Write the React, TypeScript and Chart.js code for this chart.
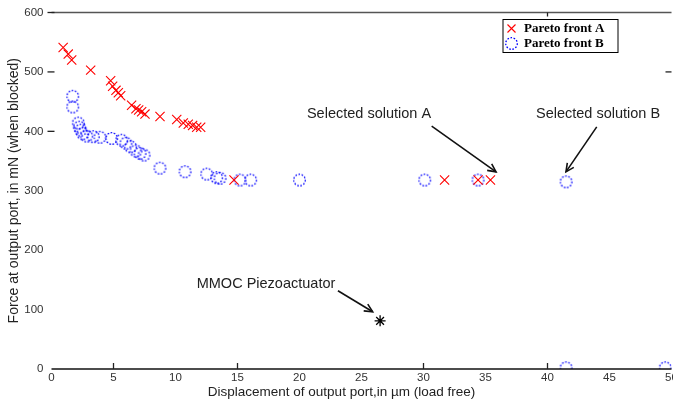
import React, { useEffect, useRef } from 'react';
import { Chart, registerables } from 'chart.js';

Chart.register(...registerables);

// ---- Data ----
const paretoAX = [0.94, 1.35, 1.63, 3.16, 4.77, 4.93, 5.2, 5.39, 5.58, 6.46, 6.81, 7.03, 7.27, 7.54, 8.75, 10.1, 10.63, 11.03, 11.38, 11.71, 12.03, 14.72, 31.7, 34.4, 35.4];
const paretoAY = [541, 530, 520, 503, 485, 476, 469, 465, 460, 444, 438, 436, 433, 429, 425, 420, 414, 412, 410, 407, 407, 318, 318, 318, 318];

const paretoBX = [1.71, 1.71, 2.16, 2.24, 2.35, 2.52, 2.84, 3.37, 3.91, 4.85, 5.66, 6.0, 6.38, 6.81, 7.14, 7.46, 8.75, 10.77, 12.52, 13.32, 13.59, 15.2, 16.06, 20.0, 30.1, 34.4, 41.5, 41.5, 49.5];
const paretoBY = [459, 441, 414, 407, 402, 396, 392, 391, 390, 388, 385, 380, 374, 367, 363, 360, 338, 332, 328, 322, 321, 318, 318, 318, 318, 318, 315, 2, 2];

const mmocX = [26.5];
const mmocY = [81];

const seriesLabels = ['Pareto front A', 'Pareto front B', 'MMOC Piezoactuator'];

const xMin = 0;
const xMax = 50;
const xStep = 5;
const yMin = 0;
const yMax = 600;
const yStep = 100;

const xTitle = 'Displacement of output port,in \u00b5m (load free)';
const yTitle = 'Force at output port, in mN (when blocked)';

// annotations in data coordinates
const annotationTexts = ['Selected solution A', 'Selected solution B', 'MMOC Piezoactuator'];
const annotationTextX = [20.6, 39.07, 11.71];
const annotationTextY = [430, 429, 143];
const arrowFromX = [30.66, 43.97, 23.1];
const arrowFromY = [408.7, 407.5, 131.7];
const arrowToX = [35.85, 41.49, 25.9];
const arrowToY = [331.8, 331.8, 96.4];

// visible tick marks in the reference
const bottomTickMarks = [5, 15, 30, 40];
const leftTickMarks = [400, 500, 600];
const rightTickMarks = [500];
const topTickMarks = [40];

function makeDottedCircle(): HTMLCanvasElement {
  const c = document.createElement('canvas');
  c.width = 15;
  c.height = 15;
  const g = c.getContext('2d')!;
  g.strokeStyle = 'rgb(0,0,255)';
  g.lineWidth = 1.3;
  g.setLineDash([1.6, 1.6]);
  g.beginPath();
  g.arc(7.5, 7.5, 5.8, 0, Math.PI * 2);
  g.stroke();
  return c;
}

function drawArrow(ctx: CanvasRenderingContext2D, x1: number, y1: number, x2: number, y2: number) {
  ctx.beginPath();
  ctx.moveTo(x1, y1);
  ctx.lineTo(x2, y2);
  ctx.stroke();
  const ang = Math.atan2(y2 - y1, x2 - x1);
  const len = 9;
  const spread = 0.45;
  ctx.beginPath();
  ctx.moveTo(x2 - len * Math.cos(ang - spread), y2 - len * Math.sin(ang - spread));
  ctx.lineTo(x2, y2);
  ctx.lineTo(x2 - len * Math.cos(ang + spread), y2 - len * Math.sin(ang + spread));
  ctx.stroke();
}

export default function App() {
  const ref = useRef<HTMLCanvasElement | null>(null);

  useEffect(() => {
    if (!ref.current) return;
    const circleImg = makeDottedCircle();

    const decor = {
      id: 'decor',
      afterDraw(chart: any) {
        const { ctx, chartArea: a, scales } = chart;
        const xs = scales.x;
        const ys = scales.y;
        ctx.save();
        // frame lines (top and bottom)
        ctx.lineWidth = 1.5;
        ctx.strokeStyle = '#111';
        ctx.beginPath();
        ctx.moveTo(a.left, a.bottom);
        ctx.lineTo(a.right, a.bottom);
        ctx.stroke();
        ctx.strokeStyle = '#555';
        ctx.beginPath();
        ctx.moveTo(a.left, a.top);
        ctx.lineTo(a.right, a.top);
        ctx.stroke();

        // tick marks
        ctx.strokeStyle = '#222';
        ctx.lineWidth = 1.3;
        bottomTickMarks.forEach((v) => {
          const px = xs.getPixelForValue(v);
          ctx.beginPath();
          ctx.moveTo(px, a.bottom);
          ctx.lineTo(px, a.bottom - 6);
          ctx.stroke();
        });
        topTickMarks.forEach((v) => {
          const px = xs.getPixelForValue(v);
          ctx.beginPath();
          ctx.moveTo(px, a.top);
          ctx.lineTo(px, a.top + 4);
          ctx.stroke();
        });
        leftTickMarks.forEach((v) => {
          const py = ys.getPixelForValue(v);
          ctx.beginPath();
          ctx.moveTo(a.left - 4, py);
          ctx.lineTo(a.left + 3, py);
          ctx.stroke();
        });
        rightTickMarks.forEach((v) => {
          const py = ys.getPixelForValue(v);
          ctx.beginPath();
          ctx.moveTo(a.right - 6, py);
          ctx.lineTo(a.right, py);
          ctx.stroke();
        });

        // x axis title (offset left of the plot centre, as in the reference)
        ctx.fillStyle = '#222';
        ctx.font = '13.5px "Liberation Sans", Arial, sans-serif';
        ctx.textAlign = 'center';
        ctx.textBaseline = 'middle';
        ctx.fillText(xTitle, chart.width / 2 + 5, a.bottom + 23.5);

        // annotations
        ctx.fillStyle = '#222';
        ctx.font = '14.5px "Liberation Sans", Arial, sans-serif';
        ctx.textAlign = 'left';
        ctx.textBaseline = 'middle';
        ctx.strokeStyle = '#111';
        ctx.lineWidth = 1.6;
        annotationTexts.forEach((t, i) => {
          ctx.fillText(t, xs.getPixelForValue(annotationTextX[i]), ys.getPixelForValue(annotationTextY[i]));
          drawArrow(
            ctx,
            xs.getPixelForValue(arrowFromX[i]),
            ys.getPixelForValue(arrowFromY[i]),
            xs.getPixelForValue(arrowToX[i]),
            ys.getPixelForValue(arrowToY[i])
          );
        });

        // legend box
        const bx = a.right - 168.5;
        const by = a.top + 7;
        const bw = 115;
        const bh = 33;
        ctx.fillStyle = '#fff';
        ctx.fillRect(bx, by, bw, bh);
        ctx.strokeStyle = '#000';
        ctx.lineWidth = 1;
        ctx.strokeRect(bx, by, bw, bh);
        const mx = bx + 8.5;
        const my1 = by + 9;
        const my2 = by + 24;
        ctx.strokeStyle = 'rgb(255,0,0)';
        ctx.lineWidth = 1.1;
        const r = 4;
        ctx.beginPath();
        ctx.moveTo(mx - r, my1 - r);
        ctx.lineTo(mx + r, my1 + r);
        ctx.moveTo(mx + r, my1 - r);
        ctx.lineTo(mx - r, my1 + r);
        ctx.stroke();
        ctx.drawImage(circleImg, mx - 7.5, my2 - 7.5);
        ctx.fillStyle = '#000';
        ctx.font = 'bold 13px "Liberation Serif", "Times New Roman", serif';
        ctx.textAlign = 'left';
        ctx.fillText(seriesLabels[0], bx + 21, my1 + 0.5);
        ctx.fillText(seriesLabels[1], bx + 21, my2 + 0.5);
        ctx.restore();
      },
    };

    const chart = new Chart(ref.current, {
      type: 'scatter',
      data: {
        datasets: [
          {
            label: seriesLabels[0],
            data: paretoAX.map((x, i) => ({ x, y: paretoAY[i] })),
            pointStyle: 'crossRot',
            pointRadius: 6.5,
            pointHoverRadius: 6.5,
            borderColor: 'rgb(255,0,0)',
            backgroundColor: 'rgb(255,0,0)',
            pointBorderWidth: 1.1,
          },
          {
            label: seriesLabels[1],
            data: paretoBX.map((x, i) => ({ x, y: paretoBY[i] })),
            pointStyle: circleImg as any,
            pointRadius: 6,
            borderColor: 'rgb(0,0,255)',
            backgroundColor: 'rgba(0,0,0,0)',
          },
          {
            label: seriesLabels[2],
            data: mmocX.map((x, i) => ({ x, y: mmocY[i] })),
            pointStyle: 'star',
            pointRadius: 5.5,
            borderColor: '#000',
            backgroundColor: '#000',
            pointBorderWidth: 1.3,
          },
        ],
      },
      options: {
        responsive: false,
        animation: false,
        devicePixelRatio: 1,
        layout: { autoPadding: false, padding: { left: 6, right: 1.5, top: 12.5, bottom: 3 } },
        plugins: {
          legend: { display: false },
          tooltip: { enabled: false },
        },
        scales: {
          x: {
            type: 'linear',
            min: xMin,
            max: xMax,
            ticks: {
              stepSize: xStep,
              color: '#333',
              font: { family: '"Liberation Sans", Arial, sans-serif', size: 11.5 },
              padding: 2,
              maxRotation: 0,
            },
            grid: { display: false, drawTicks: false },
            border: { display: false },
            title: { display: false, text: xTitle },
            afterFit(scale: any) {
              scale.height = 30;
              scale.paddingLeft = 0;
              scale.paddingRight = 0;
            },
          },
          y: {
            type: 'linear',
            min: yMin,
            max: yMax,
            ticks: {
              stepSize: yStep,
              color: '#333',
              font: { family: '"Liberation Sans", Arial, sans-serif', size: 11.5 },
              padding: 8,
            },
            grid: { display: false, drawTicks: false },
            border: { display: false },
            title: {
              display: true,
              text: yTitle,
              color: '#222',
              font: { family: '"Liberation Sans", Arial, sans-serif', size: 14 },
              padding: { top: 0, bottom: 0 },
            },
            afterFit(scale: any) {
              scale.width = 45.5;
              scale.paddingTop = 0;
              scale.paddingBottom = 0;
            },
          },
        },
      },
      plugins: [decor],
    });

    return () => chart.destroy();
  }, []);

  return (
    <div style={{ position: 'fixed', left: 0, top: 0, width: 673, height: 402, background: '#fff' }}>
      <canvas ref={ref} width={673} height={402} style={{ width: 673, height: 402, display: 'block' }} />
    </div>
  );
}
